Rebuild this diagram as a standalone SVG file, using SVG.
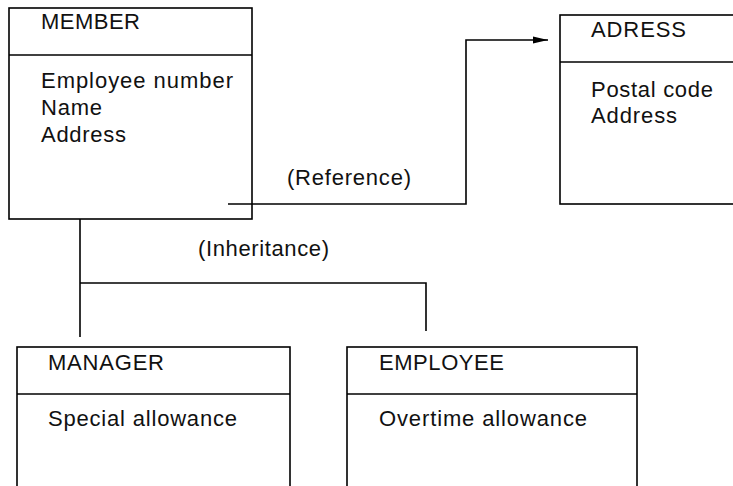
<svg xmlns="http://www.w3.org/2000/svg" width="733" height="486" viewBox="0 0 733 486">
  <style>
    .box { fill: #ffffff; stroke: #000000; stroke-width: 1.6; }
    .div { fill: none; stroke: #000000; stroke-width: 1.6; }
    .t { font-family: "Liberation Sans", Arial, sans-serif; font-size: 22px; fill: #111111; }
    .conn { fill: none; stroke: #000000; stroke-width: 1.6; }
  </style>
  <defs>
    <marker id="arrow" markerWidth="16" markerHeight="8" refX="15" refY="4" orient="auto" markerUnits="userSpaceOnUse">
      <path d="M0,0.6 L15,4 L0,7.4 Z" fill="#000000"/>
    </marker>
  </defs>
  <rect width="733" height="486" fill="#ffffff"/>

  <g id="member">
    <rect class="box" x="9" y="8" width="243" height="211"/>
    <line class="div" x1="9" y1="55" x2="252" y2="55"/>
    <text class="t" x="41" y="29" textLength="99" lengthAdjust="spacing">MEMBER</text>
    <text class="t" x="41" y="88" textLength="192" lengthAdjust="spacing">Employee number</text>
    <text class="t" x="41" y="115" textLength="61" lengthAdjust="spacing">Name</text>
    <text class="t" x="41" y="142" textLength="85" lengthAdjust="spacing">Address</text>
  </g>

  <g id="adress">
    <rect class="box" x="560" y="15" width="185" height="189"/>
    <line class="div" x1="560" y1="62" x2="745" y2="62"/>
    <text class="t" x="591" y="37" textLength="95" lengthAdjust="spacing">ADRESS</text>
    <text class="t" x="591" y="97" textLength="122" lengthAdjust="spacing">Postal code</text>
    <text class="t" x="591" y="123" textLength="86" lengthAdjust="spacing">Address</text>
  </g>

  <g id="manager">
    <rect class="box" x="17" y="347" width="273" height="160"/>
    <line class="div" x1="17" y1="394" x2="290" y2="394"/>
    <text class="t" x="48" y="370" textLength="116" lengthAdjust="spacing">MANAGER</text>
    <text class="t" x="48" y="426" textLength="189" lengthAdjust="spacing">Special allowance</text>
  </g>

  <g id="employee">
    <rect class="box" x="347" y="347" width="290" height="160"/>
    <line class="div" x1="347" y1="394" x2="637" y2="394"/>
    <text class="t" x="379" y="370" textLength="125" lengthAdjust="spacing">EMPLOYEE</text>
    <text class="t" x="379" y="426" textLength="208" lengthAdjust="spacing">Overtime allowance</text>
  </g>

  <g id="connectors">
    <polyline class="conn" points="228,204 466,204 466,40 548,40" marker-end="url(#arrow)"/>
    <text class="t" x="287" y="185" textLength="124" lengthAdjust="spacing">(Reference)</text>
    <polyline class="conn" points="80,219 80,337"/>
    <polyline class="conn" points="80,283 426,283 426,331"/>
    <text class="t" x="198" y="256" textLength="131" lengthAdjust="spacing">(Inheritance)</text>
  </g>
</svg>
